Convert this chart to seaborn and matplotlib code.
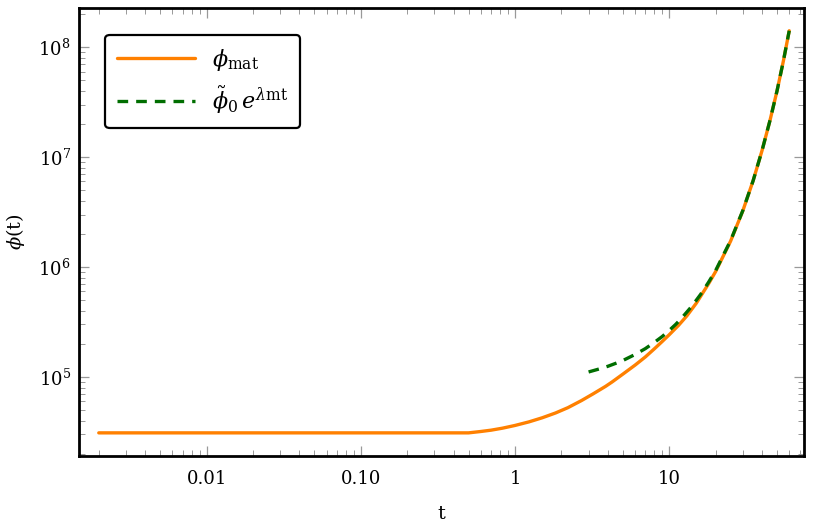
import matplotlib
matplotlib.use("Agg")
import matplotlib.pyplot as plt
import seaborn as sns
import pandas as pd

# data
t_mat = [0.002, 0.5, 0.6, 0.7, 0.83, 1.0, 1.23, 1.5, 1.83, 2.2, 2.7, 3.2, 3.86, 4.26, 5.0, 6.0, 7.0,
         8.0, 9.0, 10.0, 11.5, 13.0, 15.0, 18.0, 20.0, 25.0, 30.0, 35.0, 40.0, 45.0, 50.0, 55.0, 60.0]
phi_mat = [3.1e4, 3.1e4, 3.19e4, 3.28e4, 3.42e4, 3.62e4, 3.9e4, 4.25e4, 4.7e4, 5.25e4, 6.1e4, 7.0e4,
           8.2e4, 9.0e4, 1.06e5, 1.28e5, 1.52e5, 1.8e5, 2.1e5, 2.42e5, 2.95e5, 3.59e5, 4.7e5, 7.05e5,
           9.1e5, 1.72e6, 3.24e6, 6.1e6, 1.15e7, 2.15e7, 4.0e7, 7.5e7, 1.41e8]

t_fit = [3.0, 3.5, 4.0, 4.5, 5.0, 6.0, 7.0, 8.0, 9.0, 10.0, 11.0, 12.0, 14.0, 16.0, 18.0, 20.0, 25.0,
         30.0, 35.0, 40.0, 45.0, 50.0, 55.0, 60.0]
phi_fit = [1.11e5, 1.18e5, 1.25e5, 1.33e5, 1.41e5, 1.60e5, 1.81e5, 2.06e5, 2.33e5, 2.65e5, 3.0e5,
           3.41e5, 4.39e5, 5.65e5, 7.28e5, 9.3e5, 1.74e6, 3.26e6, 6.1e6, 1.15e7, 2.15e7, 4.0e7,
           7.5e7, 1.41e8]

x_ticks = [0.01, 0.1, 1, 10]
x_tick_labels = ["0.01", "0.10", "1", "10"]
y_ticks = [1e5, 1e6, 1e7, 1e8]
y_tick_labels = [r"$10^5$", r"$10^6$", r"$10^7$", r"$10^8$"]

sns.set_style("ticks")
plt.rcParams["font.family"] = ["DejaVu Serif"]
plt.rcParams["mathtext.fontset"] = "dejavuserif"
plt.rcParams["text.color"] = "black"
plt.rcParams["axes.labelcolor"] = "black"
plt.rcParams["xtick.labelcolor"] = "black"
plt.rcParams["ytick.labelcolor"] = "black"

fig = plt.figure(figsize=(8.15, 5.28), dpi=100)
ax = fig.add_axes([0.097, 0.1364, 0.8895, 0.8484])

df_mat = pd.DataFrame({"t": t_mat, "phi": phi_mat})
df_fit = pd.DataFrame({"t": t_fit, "phi": phi_fit})

sns.lineplot(data=df_mat, x="t", y="phi", ax=ax, color="#ff8000", linewidth=2.4,
             label=r"$\phi_{\mathrm{mat}}$", sort=False, estimator=None)
sns.lineplot(data=df_fit, x="t", y="phi", ax=ax, color="#006e00", linewidth=2.4,
             label=r"$\tilde{\phi}_0\,e^{\lambda \mathrm{mt}}$", sort=False, estimator=None)
ax.lines[1].set_dashes([3.2, 2.4])

ax.set_xscale("log")
ax.set_yscale("log")
ax.set_xlim(0.00149, 74.8)
ax.set_ylim(1.91e4, 2.27e8)

ax.set_xticks(x_ticks)
ax.set_xticklabels(x_tick_labels)
ax.set_yticks(y_ticks)
ax.set_yticklabels(y_tick_labels)

ax.tick_params(which="both", direction="in", top=True, right=True, color="#999999",
               labelsize=13, labelcolor="black")
ax.tick_params(which="major", length=7, width=0.9)
ax.tick_params(which="minor", length=4, width=0.7)
ax.tick_params(axis="x", pad=10)
ax.tick_params(axis="y", pad=6)

for s in ax.spines.values():
    s.set_color("black")
    s.set_linewidth(2.0)
    s.set_visible(True)

ax.set_xlabel("t", fontsize=14, labelpad=12)
ax.set_ylabel(r"$\phi$(t)", fontsize=14, labelpad=8)

leg = ax.legend(loc="upper left", bbox_to_anchor=(0.0359, 0.9397), borderaxespad=0,
                fontsize=16, frameon=True, fancybox=True, framealpha=1, edgecolor="black",
                handlelength=3.5, borderpad=0.55, labelspacing=0.5, handletextpad=0.75)
leg.get_frame().set_linewidth(1.6)

fig.savefig("out.png", dpi=100)
